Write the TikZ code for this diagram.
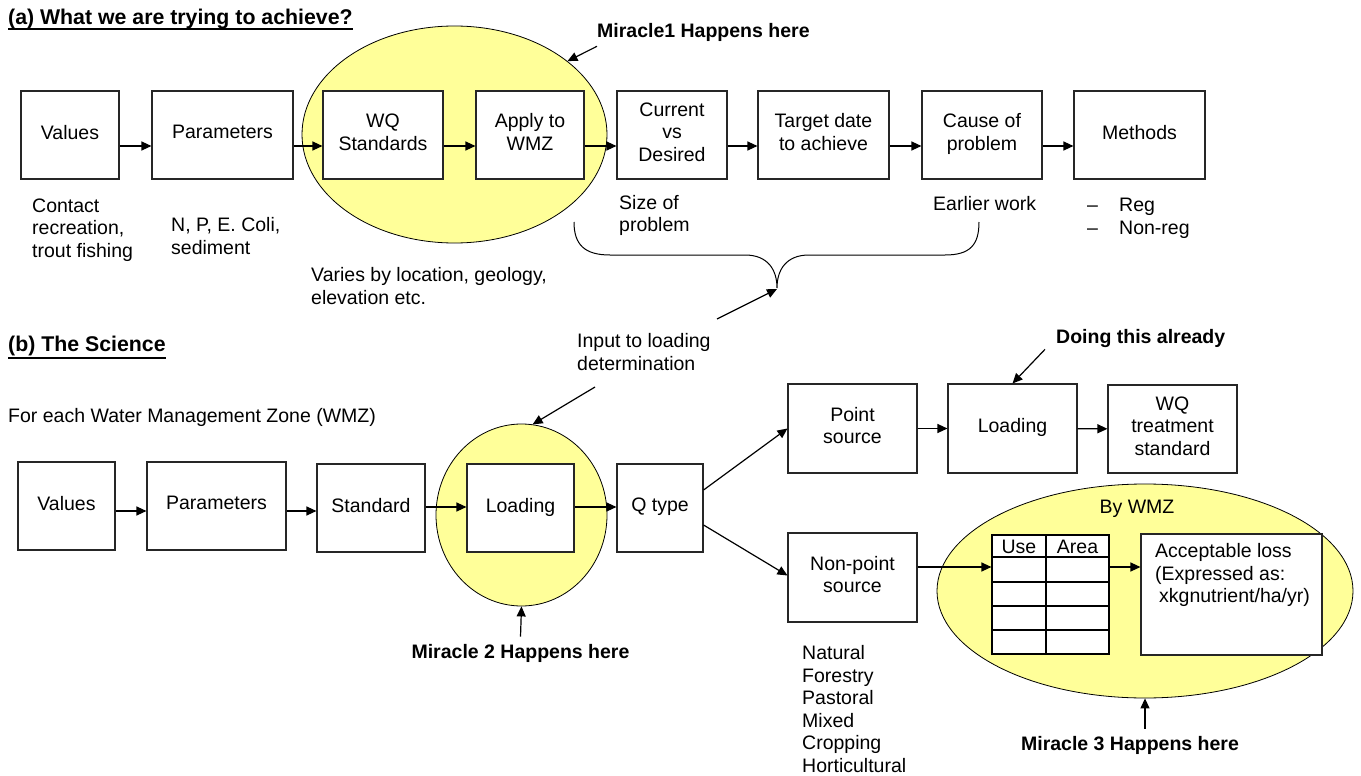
\documentclass[tikz,border=0pt]{standalone}
\usepackage{fontspec}
\setmainfont{Liberation Sans}
\usetikzlibrary{arrows.meta,shapes.geometric}
\definecolor{ylw}{HTML}{FFFF99}
\newcommand{\dpx}{\rule[-6pt]{0pt}{6pt}}
\begin{document}
\begin{tikzpicture}[x=1pt,y=-1pt,
  every node/.style={font=\fontsize{19.5pt}{22.6pt}\selectfont, inner sep=0pt},
  box/.style={draw=black!85, line width=1.1pt, fill=white, align=center, minimum height=88pt},
  arr/.style={line width=1.2pt, -{Triangle[length=10pt,width=9pt]}},
  ell/.style={ellipse, draw=black, line width=0.8pt, fill=ylw, inner sep=0pt},
  txt/.style={align=left, anchor=west},
  bold/.style={font=\fontsize{19.5pt}{22.6pt}\selectfont\bfseries},
  title/.style={font=\fontsize{21.3pt}{24pt}\selectfont\bfseries, anchor=west}]
\useasboundingbox (0,0) rectangle (1361,776);

% ---------- (a) ----------
\node[title] (ta) at (8,19) {(a) What we are trying to achieve?};
\coordinate (ula) at (0,29);
\draw[line width=1.4pt] (ta.west |- ula) -- (ta.east |- ula);

\node[ell, minimum width=305, minimum height=217] (el1) at (454.5,134.5) {};

\node[box, minimum width=98]  (a1) at (70,135)    {Values\dpx};
\node[box, minimum width=141] (a2) at (222.5,135) {Parameters\dpx};
\node[box, minimum width=120] (a3) at (383,135)   {WQ\\Standards\dpx};
\node[box, minimum width=108] (a4) at (530,135)   {Apply to\\WMZ\dpx};
\node[box, minimum width=110] (a5) at (672,135)   {Current\\vs\\Desired\dpx};
\node[box, minimum width=131] (a6) at (823.5,135) {Target date\\to achieve\dpx};
\node[box, minimum width=120] (a7) at (982,135)   {Cause of\\problem\dpx};
\node[box, minimum width=131] (a8) at (1139.5,135){Methods\dpx};

\foreach \s/\t in {a1/a2,a2/a3,a3/a4,a4/a5,a5/a6,a6/a7,a7/a8}{
  \path ([yshift=-11pt]\s.east) coordinate (tmp);
  \draw[arr] (tmp) -- (tmp -| \t.west);
}

\node[txt,bold] (m1) at (597,32) {Miracle1 Happens here};
\draw[arr] ([yshift=-5pt]m1.south west) -- (el1.33);

\node[txt] at (32,230)    {Contact\\recreation,\\trout fishing};
\node[txt] at (171,236)   {N, P, E. Coli,\\sediment};
\node[txt] at (311,286)   {Varies by location, geology,\\elevation etc.};
\node[txt] at (619,215.5) {Size of\\problem};
\node[txt] at (933,204)   {Earlier work};
\node[txt] at (1087,218.5){\makebox[32pt][l]{–}Reg\\\makebox[32pt][l]{–}Non-reg};

% brace
\draw[line width=1pt] (574,222) .. controls (574,245) and (585,255) .. (610,255) -- (745,255)
  .. controls (768,255) and (777,270) .. (777,288)
  .. controls (777,270) and (786,255) .. (809,255) -- (945,255)
  .. controls (970,255) and (979,245) .. (979,222);
\coordinate (cusp) at (777,289);
\coordinate (inpA) at (717,319);
\draw[arr] (inpA) -- (cusp);

% ---------- (b) ----------
\node[title] (tb) at (8,346) {(b) The Science};
\coordinate (ulb) at (0,358);
\draw[line width=1.4pt] (tb.west |- ulb) -- (tb.east |- ulb);

\node[txt] (fe) at (8,417) {For each Water Management Zone (WMZ)};

\node[txt] (inp) at (577,352) {Input to loading\\determination};

\node[ell, minimum width=171, minimum height=182] (el2) at (521.5,515) {};
\node[ell, minimum width=416, minimum height=214] (el3) at (1145,591) {};

\coordinate (inpB) at (595,387);
\draw[arr] (inpB) -- (el2.83);

\node[box, minimum width=97]  (b1) at (66.5,506)  {Values\dpx};
\node[box, minimum width=139] (b2) at (216.5,506) {Parameters\dpx};
\node[box, minimum width=108] (b3) at (371,508)   {Standard\dpx};
\node[box, minimum width=107] (b4) at (520.5,508) {Loading\dpx};
\node[box, minimum width=86]  (b5) at (660,508)   {Q type\dpx};

\foreach \s/\t/\d in {b1/b2/-5,b2/b3/-5,b3/b4/1,b4/b5/1}{
  \path ([yshift=\d pt]\s.east) coordinate (tmp);
  \draw[arr] (tmp) -- (tmp -| \t.west);
}

\node[box, minimum width=129, minimum height=89] (c1) at (852.5,428.5) {Point\\source\dpx};
\node[box, minimum width=129, minimum height=89] (c2) at (1012.5,428.5) {Loading\dpx};
\node[box, minimum width=129, minimum height=88] (c3) at (1172.5,429) {WQ\\treatment\\standard\dpx};
\node[box, minimum width=129, minimum height=89] (d1) at (852.5,577.5) {Non-point\\source\dpx};

\draw[arr] (c1) -- (c2);
\draw[arr] (c2) -- (c3);
\draw[arr] ([yshift=18pt]b5.east) -- (c1.west);
\draw[arr] ([yshift=-17pt]b5.east) -- ([yshift=2pt]d1.west);

\node[txt,bold] (dt) at (1056,338) {Doing this already};
\draw[arr] ([xshift=-11pt,yshift=-2pt]dt.south west) -- (c2.north);

\node[bold] (m2) at (520.5,653) {Miracle 2 Happens here};
\draw[arr] ([yshift=7pt]m2.north) -- (el2.south);

\node[txt] at (802,709) {Natural\\Forestry\\Pastoral\\Mixed\\Cropping\\Horticultural};

% By WMZ region
\node (bw) at (1137,509) {By WMZ};
\node[draw=black, line width=1.2pt, fill=white, minimum width=117, minimum height=119] (tbl) at (1050.5,594.5) {};
\foreach \yy in {557,582,606,630}{ \draw[line width=1.2pt] (992,\yy) -- (1109,\yy); }
\draw[line width=1.2pt] (1046,535) -- (1046,654);
\node at (1019,547) {Use};
\node at (1077.5,547) {Area};

\node[box, minimum width=181, minimum height=121] (e1) at (1231.5,594.5) {};
\node[txt] at (1155,575) {Acceptable loss\\(Expressed as:\\\hspace*{4pt}xkgnutrient/ha/yr)};

\path ([yshift=10.5pt]d1.east) coordinate (np);
\draw[arr] (np) -- (np -| tbl.west);
\path ([yshift=27.5pt]tbl.east) coordinate (te);
\draw[arr] (te) -- (te -| e1.west);

\node[bold] (m3) at (1130,745) {Miracle 3 Happens here};
\path ([yshift=7pt]m3.north) coordinate (m3t);
\draw[arr] (m3t -| el3.south) -- (el3.south);
\end{tikzpicture}
\end{document}
